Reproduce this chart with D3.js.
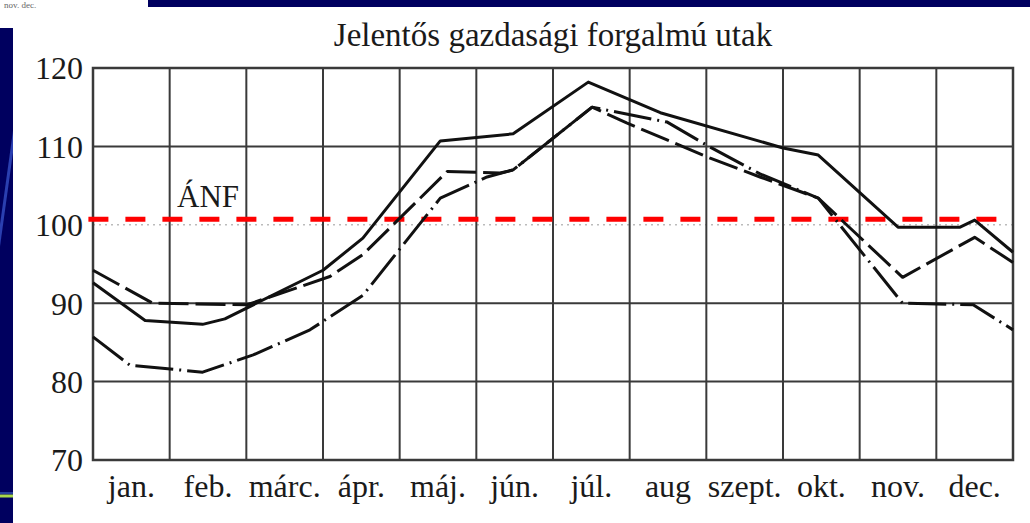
<!DOCTYPE html>
<html><head><meta charset="utf-8">
<script src="https://cdn.jsdelivr.net/npm/d3@7"></script>
<style>html,body{margin:0;padding:0;background:#fff;}svg{display:block;}</style>
</head><body>
<svg id="c" width="1030" height="523"></svg>
<script>
// ---- data ----
const title = "Jelentős gazdasági forgalmú utak";
const months = ["jan.","feb.","márc.","ápr.","máj.","jún.","júl.","aug","szept.","okt.","nov.","dec."];
const yTicks = [70,80,90,100,110,120];
const anfValue = 100.7;
const anfLabel = "ÁNF";
const cornerNote = "nov. dec.";
// [position in months from start of jan, value]
const seriesSolid = [[0,92.6],[0.68,87.8],[1.43,87.3],[1.72,88.0],[3.0,94.2],[3.52,98.3],[4.53,110.7],[5.48,111.6],[6.46,118.2],[7.40,114.3],[9.0,109.8],[9.46,108.9],[10.5,99.7],[11.31,99.7],[11.5,100.6],[12,96.5]];
const seriesDash = [[0,94.2],[0.78,90.0],[2.01,89.8],[3.09,93.4],[3.52,96.2],[4.62,106.8],[5.31,106.6],[5.48,107.0],[6.51,115.0],[6.96,113.0],[8.05,108.5],[8.70,106.1],[9.46,103.4],[10.56,93.3],[11.5,98.4],[12,95.2]];
const seriesDashDot = [[0,85.7],[0.48,82.1],[1.43,81.2],[2.09,83.4],[2.83,86.6],[3.52,91.0],[4.53,103.4],[5.14,106.1],[5.48,107.0],[6.51,115.0],[7.49,113.1],[8.05,109.9],[8.70,106.5],[9.46,103.4],[10.56,90.0],[11.48,89.8],[12,86.6]];

const svg = d3.select("#c");
const L = 93, R = 1013, T = 68, B = 460;
const x = d3.scaleLinear().domain([0, months.length]).range([L, R]);
const y = d3.scaleLinear().domain([70, 120]).range([B, T]);
const band = d3.scaleBand().domain(months).range([L, R]);
const font = "'Liberation Serif','Times New Roman',serif";

// slide decoration
svg.append("rect").attr("x",148).attr("y",0).attr("width",882).attr("height",7).attr("fill","#00005f");
svg.append("rect").attr("x",0).attr("y",28).attr("width",13).attr("height",495).attr("fill","#00005f");
svg.append("clipPath").attr("id","strip").append("rect").attr("x",0).attr("y",28).attr("width",13).attr("height",495);
svg.append("line").attr("x1",-2).attr("y1",250).attr("x2",16).attr("y2",120).attr("stroke","#2a3fb0").attr("stroke-width",3).attr("clip-path","url(#strip)");
svg.append("line").attr("x1",0).attr("y1",496).attr("x2",13).attr("y2",496).attr("stroke","#a8d84a").attr("stroke-width",3);
svg.append("line").attr("x1",0).attr("y1",493).attr("x2",13).attr("y2",493).attr("stroke","#3050b0").attr("stroke-width",1.5);
svg.append("text").attr("x",4).attr("y",8).attr("font-family",font).attr("font-size",9).attr("fill","#666").text(cornerNote);

// title
svg.append("text").attr("x",(L+R)/2).attr("y",46).attr("text-anchor","middle")
  .attr("font-family",font).attr("font-size",33).attr("fill","#1a1a1a").text(title);

// grid
const g = svg.append("g");
g.selectAll("line.h").data(yTicks.filter(v=>v!==70 && v!==120)).join("line")
  .attr("x1",L).attr("x2",R).attr("y1",d=>y(d)).attr("y2",d=>y(d))
  .attr("stroke",d=>d===100?"#bbb":"#3a3a3a").attr("stroke-width",d=>d===100?1.5:2)
  .attr("stroke-dasharray",d=>d===100?"2,4":null);
g.selectAll("line.v").data(d3.range(1, months.length)).join("line")
  .attr("x1",d=>x(d)).attr("x2",d=>x(d)).attr("y1",T).attr("y2",B)
  .attr("stroke","#3a3a3a").attr("stroke-width",2);
g.append("rect").attr("x",L).attr("y",T).attr("width",R-L).attr("height",B-T)
  .attr("fill","none").attr("stroke","#3a3a3a").attr("stroke-width",2.5);

// y axis labels
const yAxis = d3.axisLeft(y).tickValues(yTicks).tickSize(0).tickPadding(10);
const ya = svg.append("g").attr("transform",`translate(${L},0)`).call(yAxis);
ya.select(".domain").remove();
ya.selectAll("text").attr("font-family",font).attr("font-size",32).attr("fill","#1a1a1a").attr("dy","0.34em");

// x axis labels
const xAxis = d3.axisBottom(band).tickSize(0).tickPadding(0);
const xa = svg.append("g").attr("transform",`translate(0,${B})`).call(xAxis);
xa.select(".domain").remove();
xa.selectAll("text").attr("font-family",font).attr("font-size",32).attr("fill","#1a1a1a").attr("dy",null).attr("y",37);

// ANF line
svg.append("line").attr("x1",x(-0.06)).attr("x2",x(12)).attr("y1",y(anfValue)).attr("y2",y(anfValue))
  .attr("stroke","#ff0000").attr("stroke-width",5).attr("stroke-dasharray","20,17");
svg.append("text").attr("x",177).attr("y",y(anfValue)-12).attr("font-family",font).attr("font-size",31)
  .attr("fill","#1a1a1a").text(anfLabel);

// series
const line = d3.line().x(d=>x(d[0])).y(d=>y(d[1]));
const series = [
  {data: seriesSolid, dash: null},
  {data: seriesDash, dash: "30,7"},
  {data: seriesDashDot, dash: "38,6,2,6"}
];
svg.selectAll("path.s").data(series).join("path")
  .attr("d",d=>line(d.data)).attr("fill","none").attr("stroke","#111")
  .attr("stroke-width",3).attr("stroke-linejoin","round")
  .attr("stroke-dasharray",d=>d.dash);
</script>
</body></html>
